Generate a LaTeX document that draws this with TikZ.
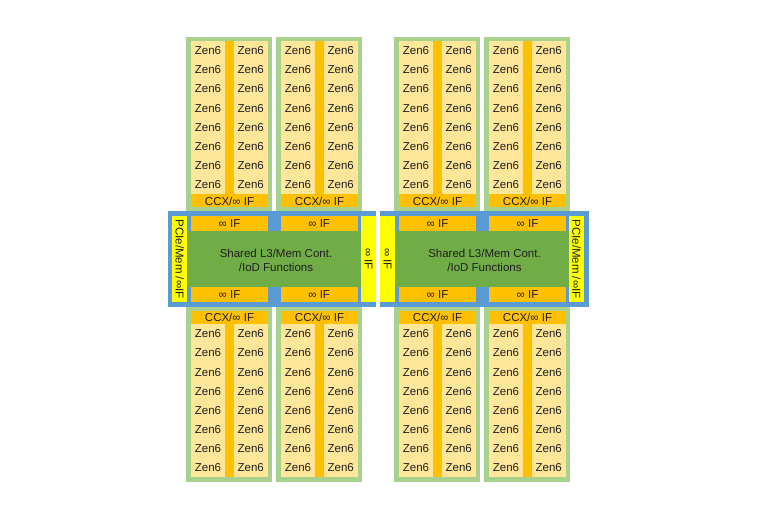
\documentclass[tikz,border=0pt]{standalone}
\usepackage{fontspec}
\setmainfont{Liberation Sans}
\definecolor{ccdgreen}{HTML}{A9D18E}
\definecolor{core}{HTML}{FFE699}
\definecolor{ifo}{HTML}{FFC000}
\definecolor{iodblue}{HTML}{5B9BD5}
\definecolor{iodgreen}{HTML}{70AD47}
\definecolor{ify}{HTML}{FFFF00}
\definecolor{txt}{HTML}{202020}
\begin{document}
\begin{tikzpicture}[x=1pt,y=-1pt,
  lab/.style={inner sep=0pt, font=\fontsize{11.5}{14}\selectfont, text=txt},
  vlab/.style={lab, rotate=-90}]
\useasboundingbox (0,0) rectangle (776,517);
% ---------- top CCDs ----------
\foreach \x [count=\k] in {186,276,394,484} {
  \fill[ccdgreen] (\x,36.7) rectangle ++(86,175);
  \fill[core] (\x+5,41.2) rectangle (\x+82,207.2);
  \fill[ifo] (\x+39,41.2) rectangle (\x+47.5,194.2);
  \fill[ifo] (\x+5,194.2) rectangle (\x+82,207.2);
  \node[lab] (ccxT\k) at (\x+43.5,200.9) {CCX/∞ IF};
  \foreach \r in {1,...,8} {
    \pgfmathsetmacro{\yy}{41.2+(\r-0.5)*19.125}
    \node[lab] (zT\k L\r) at (\x+22,\yy) {Zen6};
    \node[lab] (zT\k R\r) at (\x+64.75,\yy) {Zen6};
  }
}
% ---------- bottom CCDs ----------
\foreach \x [count=\k] in {186,276,394,484} {
  \fill[ccdgreen] (\x,306) rectangle ++(86,175.5);
  \fill[core] (\x+5,310.7) rectangle (\x+82,477.3);
  \fill[ifo] (\x+5,310.7) rectangle (\x+82,324.3);
  \fill[ifo] (\x+39,324.3) rectangle (\x+47.5,477.3);
  \node[lab] (ccxB\k) at (\x+43.5,317.7) {CCX/∞ IF};
  \foreach \r in {1,...,8} {
    \pgfmathsetmacro{\yy}{324.3+(\r-0.5)*19.125}
    \node[lab] (zB\k L\r) at (\x+22,\yy) {Zen6};
    \node[lab] (zB\k R\r) at (\x+64.75,\yy) {Zen6};
  }
}
% ---------- left IOD ----------
\fill[iodblue] (168,211) rectangle (376,306.7);
\fill[ify] (172.3,216) rectangle (187.3,301.7);
\fill[ify] (361,216) rectangle (376,301.7);
\fill[iodgreen] (187.3,230.7) rectangle (361,286.7);
\fill[ifo] (191,216) rectangle (268,230.7);
\fill[ifo] (280.7,216) rectangle (357.7,230.7);
\fill[ifo] (191,286.7) rectangle (268,301.7);
\fill[ifo] (280.7,286.7) rectangle (357.7,301.7);
\node[vlab] (pcieL) at (179.8,259) {PCIe/Mem /∞IF};
\node[vlab] (ifL) at (368.5,259) {∞ IF};
\node[lab] (ifLT1) at (229.5,223.5) {∞ IF};
\node[lab] (ifLT2) at (319.2,223.5) {∞ IF};
\node[lab] (ifLB1) at (229.5,294.2) {∞ IF};
\node[lab] (ifLB2) at (319.2,294.2) {∞ IF};
\node[lab, align=center] (iodL) at (276,260) {Shared L3/Mem Cont.\\/IoD Functions};
% ---------- right IOD ----------
\fill[iodblue] (380,211) rectangle (589.3,306.7);
\fill[ify] (380,216) rectangle (395,301.7);
\fill[ify] (569,216) rectangle (584.3,301.7);
\fill[iodgreen] (395,230.7) rectangle (569,286.7);
\fill[ifo] (399,216) rectangle (476,230.7);
\fill[ifo] (489,216) rectangle (566,230.7);
\fill[ifo] (399,286.7) rectangle (476,301.7);
\fill[ifo] (489,286.7) rectangle (566,301.7);
\node[vlab] (ifR) at (387.5,259) {∞ IF};
\node[vlab] (pcieR) at (576.6,259) {PCIe/Mem /∞IF};
\node[lab] (ifRT1) at (437.5,223.5) {∞ IF};
\node[lab] (ifRT2) at (527.5,223.5) {∞ IF};
\node[lab] (ifRB1) at (437.5,294.2) {∞ IF};
\node[lab] (ifRB2) at (527.5,294.2) {∞ IF};
\node[lab, align=center] (iodR) at (484.5,260) {Shared L3/Mem Cont.\\/IoD Functions};
\end{tikzpicture}
\end{document}
